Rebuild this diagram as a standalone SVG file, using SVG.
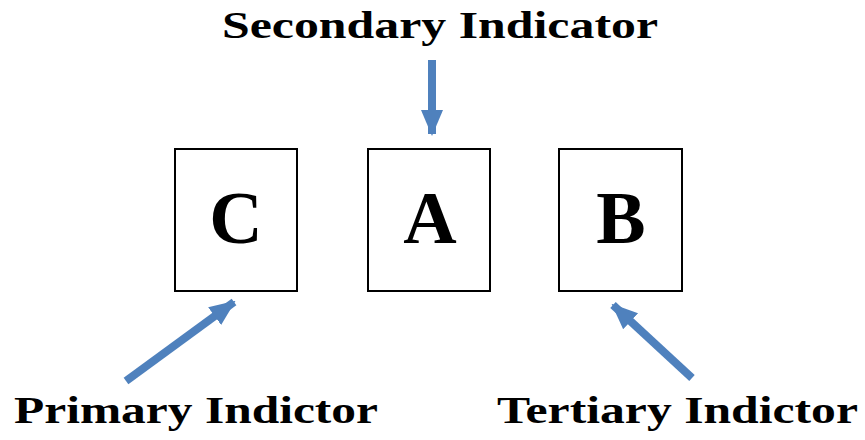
<svg xmlns="http://www.w3.org/2000/svg" width="865" height="440" viewBox="0 0 865 440">
<style>
.box{fill:#fff;stroke:#000;stroke-width:2}
.lbl{font-family:"Liberation Serif","DejaVu Serif",serif;font-weight:bold;fill:#000}
.big{font-size:74px;text-anchor:middle}
.cap{font-size:38px}
.arr{stroke:#4f81bd;stroke-width:8;fill:none}
</style>
<defs>
<marker id="ah" markerUnits="userSpaceOnUse" markerWidth="26" markerHeight="26" viewBox="0 0 26 26" refX="24" refY="13" orient="auto">
<path d="M0,2 L26,13 L0,24 Z" fill="#4f81bd"/>
</marker>
</defs>
<rect width="865" height="440" fill="#fff"/>
<g id="node-C"><rect class="box" x="175" y="149" width="122" height="142"/><text class="lbl big" x="236" y="243">C</text></g>
<g id="node-A"><rect class="box" x="368" y="149" width="122" height="142"/><text class="lbl big" x="430" y="243">A</text></g>
<g id="node-B"><rect class="box" x="559" y="149" width="123" height="142"/><text class="lbl big" x="621" y="243">B</text></g>
<g id="label-secondary"><text class="lbl cap" x="222" y="38" textLength="436" lengthAdjust="spacingAndGlyphs">Secondary Indicator</text></g>
<g id="label-primary"><text class="lbl cap" x="14" y="423" textLength="364" lengthAdjust="spacingAndGlyphs">Primary Indictor</text></g>
<g id="label-tertiary"><text class="lbl cap" x="497" y="423" textLength="361" lengthAdjust="spacingAndGlyphs">Tertiary Indictor</text></g>
<g id="connectors">
<line class="arr" x1="432" y1="60" x2="432" y2="134" marker-end="url(#ah)"/>
<line class="arr" x1="126" y1="381" x2="234" y2="302" marker-end="url(#ah)"/>
<line class="arr" x1="692" y1="378" x2="613" y2="305" marker-end="url(#ah)"/>
</g>
</svg>
